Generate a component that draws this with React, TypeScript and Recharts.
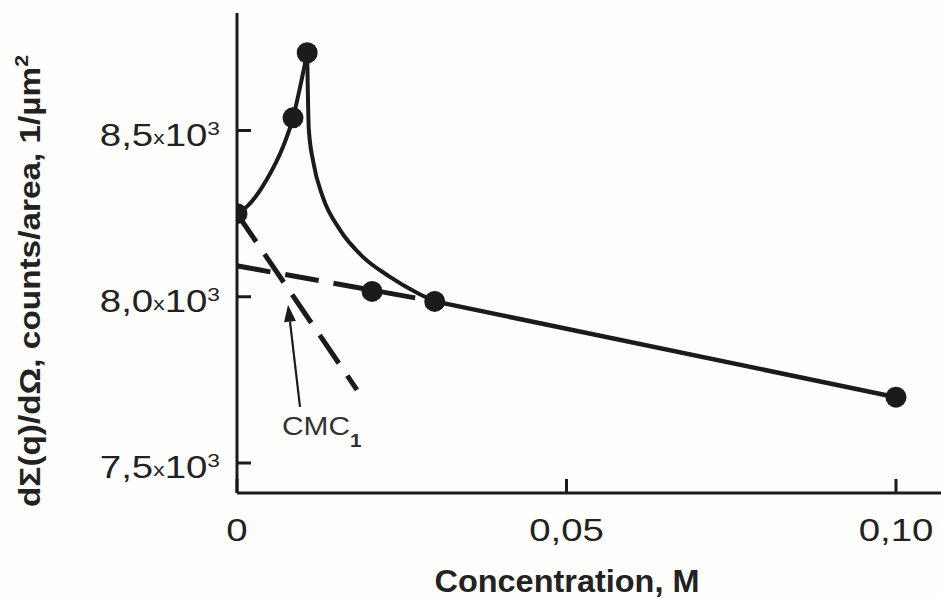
import React from 'react';
import { ComposedChart, Line, Scatter, XAxis, YAxis, ReferenceLine, ReferenceDot } from 'recharts';

// measured points: concentration (M) vs dΣ/dΩ (counts/area)
const markerX = [0, 0.0085, 0.01065, 0.0205, 0.03, 0.1];
const markerY = [8250, 8538, 8734, 8016, 7986, 7698];

// solid guide curve, rising part up to the peak
const riseX = [0, 0.0015, 0.0045, 0.007, 0.0085, 0.0096, 0.01065];
const riseY = [8250, 8271, 8352, 8452, 8538, 8633, 8734];

// solid guide curve after the peak
const fallX = [0.01065, 0.0109, 0.0116, 0.013, 0.0156, 0.0191, 0.0232, 0.0273, 0.03];
const fallY = [8734, 8503, 8403, 8301, 8202, 8120, 8060, 8012, 7986];

// straight tail to the last point
const tailX = [0.03, 0.1];
const tailY = [7986, 7698];

// dashed linear fits whose crossing gives CMC1
const steepFitX = [0, 0.0182];
const steepFitY = [8250, 7720];
const flatFitX = [0, 0.03];
const flatFitY = [8093, 7986];

const xTicks = [0, 0.05, 0.1];
const xTickLabels = ['0', '0,05', '0,10'];
const yTicks = [7500, 8000, 8500];
const yTickLabels = ['7,5', '8,0', '8,5'];

const zip = (xs: number[], ys: number[]) => xs.map((x, i) => ({ x, y: ys[i] }));

const markers = zip(markerX, markerY);
const rise = zip(riseX, riseY);
const fall = zip(fallX, fallY);
const tail = zip(tailX, tailY);
const steepFit = zip(steepFitX, steepFitY);
const flatFit = zip(flatFitX, flatFitY);

const INK = '#1b1b1b';
const FONT = '"Liberation Sans", Arial, Helvetica, sans-serif';

const XTick = (props: any) => {
  const { x, y, payload } = props;
  const label = xTickLabels[xTicks.indexOf(payload.value)];
  return (
    <g>
      <line x1={x} y1={y} x2={x} y2={y - 14} stroke={INK} strokeWidth={3} />
      <text
        transform={`translate(${x},${y + 48}) scale(1.2,1)`}
        textAnchor="middle"
        fontSize={32}
        fontFamily={FONT}
        fill="#222"
      >
        {label}
      </text>
    </g>
  );
};

const YTick = (props: any) => {
  const { x, y, payload } = props;
  const label = yTickLabels[yTicks.indexOf(payload.value)];
  return (
    <g>
      <line x1={x} y1={y} x2={x + 14} y2={y} stroke={INK} strokeWidth={3} />
      <text
        transform={`translate(${x - 17},${y + 15}) scale(1.2,1)`}
        textAnchor="end"
        fontSize={32}
        fontFamily={FONT}
        fill="#222"
      >
        {label}
        <tspan fontSize={19} dy={-2}>x</tspan>
        <tspan dy={2}>10</tspan>
        <tspan fontSize={19} dy={-11}>3</tspan>
      </text>
    </g>
  );
};

const Dot = (props: any) => <circle cx={props.cx} cy={props.cy} r={10.5} fill={INK} />;

const Arrow = (props: any) => {
  const { x1, y1, x2, y2 } = props;
  const ang = Math.atan2(y2 - y1, x2 - x1);
  const len = 17;
  const half = 6;
  const bx = x2 - len * Math.cos(ang);
  const by = y2 - len * Math.sin(ang);
  const nx = -Math.sin(ang) * half;
  const ny = Math.cos(ang) * half;
  return (
    <g>
      <line x1={x1} y1={y1} x2={bx} y2={by} stroke={INK} strokeWidth={2.2} />
      <polygon points={`${x2},${y2} ${bx + nx},${by + ny} ${bx - nx},${by - ny}`} fill={INK} />
    </g>
  );
};

const CmcLabel = (props: any) => (
  <text transform={`translate(${props.cx},${props.cy}) scale(1.15,1)`} fontSize={26} fontFamily={FONT} fill="#333">
    CMC
    <tspan fontSize={18} fontWeight="bold" dy={12}>1</tspan>
  </text>
);

const XTitle = () => (
  <text
    x={567}
    y={592}
    textAnchor="middle"
    fontSize={32}
    fontWeight="bold"
    fontFamily={FONT}
    fill="#222"
    textLength={265}
    lengthAdjust="spacingAndGlyphs"
  >
    Concentration, M
  </text>
);

const YTitle = () => (
  <text
    transform="translate(40,281) rotate(-90)"
    textAnchor="middle"
    fontSize={30}
    fontWeight="bold"
    fontFamily={FONT}
    fill="#222"
    textLength={452}
    lengthAdjust="spacingAndGlyphs"
  >
    dΣ(q)/dΩ, counts/area, 1/µm<tspan fontSize={19} dy={-12}>2</tspan>
  </text>
);

export default function App() {
  return (
    <div style={{ position: 'absolute', left: 0, top: 0, width: 941, height: 598, background: '#fefefc' }}>
      <ComposedChart width={941} height={598} margin={{ top: 13, right: 0, bottom: 0, left: 0 }}>
        <XAxis
          type="number"
          dataKey="x"
          domain={[0, 0.10683]}
          allowDataOverflow
          ticks={xTicks}
          interval={0}
          height={105}
          tickSize={0}
          tickMargin={0}
          tickLine={false}
          axisLine={{ stroke: INK, strokeWidth: 3 }}
          tick={<XTick />}
          label={{ content: () => <XTitle /> }}
        />
        <YAxis
          type="number"
          dataKey="y"
          domain={[7409.8, 8853.4]}
          allowDataOverflow
          ticks={yTicks}
          interval={0}
          width={237}
          tickSize={0}
          tickMargin={0}
          tickLine={false}
          axisLine={{ stroke: INK, strokeWidth: 3 }}
          tick={<YTick />}
          label={{ content: () => <YTitle /> }}
        />
        <Line data={steepFit} dataKey="y" type="linear" stroke={INK} strokeWidth={5} strokeDasharray="34 15" dot={false} isAnimationActive={false} />
        <Line data={flatFit} dataKey="y" type="linear" stroke={INK} strokeWidth={5} strokeDasharray="34 15" dot={false} isAnimationActive={false} />
        <Line data={rise} dataKey="y" type="monotone" stroke={INK} strokeWidth={4} dot={false} isAnimationActive={false} />
        <Line data={fall} dataKey="y" type="monotone" stroke={INK} strokeWidth={4} dot={false} isAnimationActive={false} />
        <Line data={tail} dataKey="y" type="linear" stroke={INK} strokeWidth={4.5} dot={false} isAnimationActive={false} />
        <Scatter data={markers} dataKey="y" shape={<Dot />} isAnimationActive={false} />
        <ReferenceLine
          segment={[{ x: 0.00956, y: 7669 }, { x: 0.00774, y: 7976 }]}
          shape={(p: any) => <Arrow {...p} />}
        />
        <ReferenceDot x={0.00683} y={7585} shape={(p: any) => <CmcLabel {...p} />} />
      </ComposedChart>
    </div>
  );
}
